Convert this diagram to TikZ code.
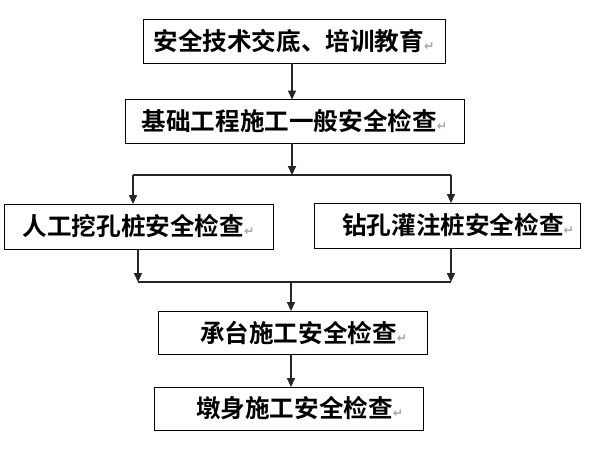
\documentclass[tikz,border=0pt]{standalone}
\usepackage{fontspec}
\newfontfamily\cjk{Noto Sans CJK SC}[BoldFont={Noto Sans CJK SC Bold}]
\newfontfamily\markfont{DejaVu Sans}
\usepackage{tikz}
\usetikzlibrary{arrows.meta,positioning}
\newcommand{\pmark}{{\markfont\fontsize{7pt}{7pt}\selectfont\color{gray!70}\char"21B5}}

\begin{document}
\begin{tikzpicture}[x=0.02cm, y=-0.02cm,
        every node/.style={outer sep=0pt},
        box/.style={draw, line width=0.5pt, inner sep=0pt, minimum height=0.88cm,
          font=\cjk\bfseries\fontsize{14pt}{15pt}\selectfont},
        arr/.style={draw, line width=0.8pt, black!85, -{Triangle[length=5pt,width=4.5pt]}},
        link/.style={draw, line width=0.8pt, black!85}]
        \useasboundingbox (0,0) rectangle (600,450);
        \node (brief) [box, minimum width=6.04cm] at (294,41) {安全技术交底、培训教育\pmark};
        \node (general) [box, minimum width=6.78cm] at (294.5,121.5) {基础工程施工一般安全检查\pmark\hspace{0.5em}};
        \node (dug) [box, minimum width=5.38cm, minimum height=0.9cm] at (138.5,226.5) {人工挖孔桩安全检查\pmark};
        \node (bored) [box, minimum width=5.32cm, minimum height=0.9cm] at (447,225.5) {\hspace{0.9em}钻孔灌注桩安全检查\pmark};
        \node (cap) [box, minimum width=5.38cm, minimum height=0.86cm] at (292.5,332.5) {\hspace{0.9em}承台施工安全检查\pmark};
        \node (pier) [box, minimum width=5.38cm, minimum height=0.86cm] at (288.5,408.5) {\hspace{0.9em}墩身施工安全检查\pmark};
        %\draw [help lines,gray!50,step=50] (0,0) grid (600,450);
        \coordinate (split) at (292,175);
        \coordinate (splitL) at (133,175);
        \coordinate (splitR) at (451,175);
        \coordinate (merge) at (291,282);
        \coordinate (mergeL) at (138,282);
        \coordinate (mergeR) at (451,282);
        \draw [arr] (brief.south -| split) -- (general.north -| split);
        \draw [arr] (general.south -| split) -- (split);
        \draw [link] (splitL) -- (splitR);
        \draw [arr] (splitL) -- (splitL |- dug.north);
        \draw [arr] (splitR) -- (splitR |- bored.north);
        \draw [arr] (dug.south -| mergeL) -- (mergeL);
        \draw [arr] (bored.south -| mergeR) -- (mergeR);
        \draw [link] (mergeL) -- (mergeR);
        \draw [arr] (merge) -- (cap.north -| merge);
        \draw [arr] (cap.south -| merge) -- (pier.north -| merge);
    \end{tikzpicture}
\end{document}
